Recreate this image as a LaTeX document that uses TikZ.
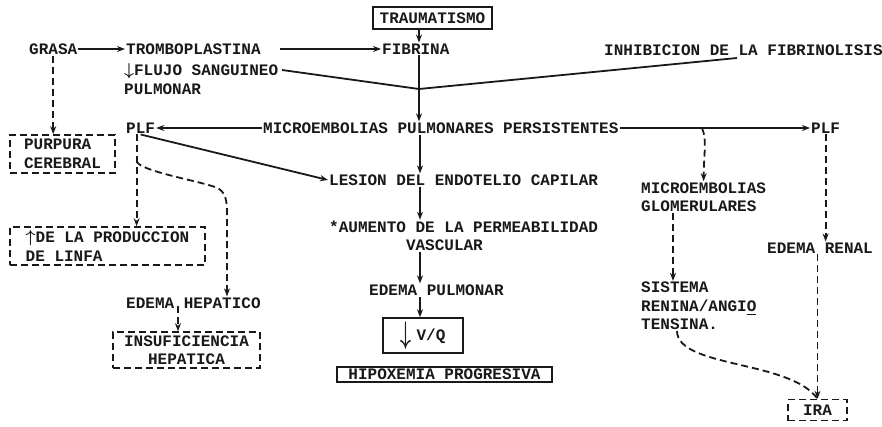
\documentclass[tikz,border=0pt]{standalone}
\usepackage{amsmath}
\usepackage{graphicx}
\usepackage{fontspec}
\setmonofont{Liberation Mono}
\usepackage{tikz}
\usetikzlibrary{positioning,arrows.meta,calc}
\definecolor{ink}{RGB}{25,25,25}
\newcommand{\typefont}{\ttfamily\bfseries\fontsize{16}{18.5}\selectfont}
\tikzset{
  lbl/.style={anchor=west, font=\typefont, text=ink, inner sep=1pt, align=left},
  flow/.style={ink, line width=1.8pt, -{Stealth[length=8pt,width=6pt]}},
  dflow/.style={flow, dash pattern=on 7pt off 4pt},
  dline/.style={ink, line width=1.8pt, dash pattern=on 7pt off 4pt},
  solidbox/.style={draw=ink, line width=1.6pt, font=\typefont, text=ink, inner sep=0pt},
  dashbox/.style={solidbox, dash pattern=on 7pt off 4pt}
}

\begin{document}
\begin{tikzpicture}[x=1pt, y=-1pt]
\useasboundingbox (0,0) rectangle (882,426);
\node[solidbox, minimum width=119pt, minimum height=22pt] (traum) at (432.5,18) {TRAUMATISMO};
\node[lbl] (grasa) at (28,49) {GRASA};
\node[lbl] (trombo) at (125,49) {TROMBOPLASTINA};
\node[lbl] (fibrina) at (381,49) {FIBRINA};
\node[lbl] (inhib) at (603,50) {INHIBICION DE LA FIBRINOLISIS};
\node[lbl] (flujo) at (123,79) {$\boldsymbol{\downarrow}$FLUJO SANGUINEO\\PULMONAR};
\node[lbl] (plfl) at (125,128) {PLF};
\node[lbl] (micro) at (262,128) {MICROEMBOLIAS PULMONARES PERSISTENTES};
\node[lbl] (plfr) at (810,128) {PLF};
\node[dashbox, minimum width=105pt, minimum height=38pt, align=left] (purpura) at (62.5,154) {PURPURA\\CEREBRAL};
\node[lbl] (lesion) at (328,180) {LESION DEL ENDOTELIO CAPILAR};
\node[lbl] (aumento) at (328,236) {*AUMENTO DE LA PERMEABILIDAD\\\phantom{AUMENTO }VASCULAR};
\node[lbl] (edemap) at (368,290) {EDEMA PULMONAR};
\node[solidbox, minimum width=80pt, minimum height=35pt] (vq) at (423,335.5) {\raisebox{-3pt}{\scalebox{1.1}[1.8]{$\boldsymbol{\downarrow}$}}\hspace{5pt}V/Q};
\node[solidbox, line width=2pt, minimum width=215pt, minimum height=15pt] (hipox) at (444.5,374.5) {HIPOXEMIA PROGRESIVA};
\node[lbl] (glom) at (640,197) {MICROEMBOLIAS\\GLOMERULARES};
\node[lbl] (sistema) at (640,306) {SISTEMA\\RENINA/ANGI\underline{O}\\TENSINA.};
\node[lbl] (renal) at (766,248) {EDEMA RENAL};
\node[dashbox, minimum width=59pt, minimum height=21pt] (ira) at (817.5,410) {IRA};
\node[dashbox, minimum width=195pt, minimum height=38pt, align=left] (linfa) at (107.5,246) {$\boldsymbol{\uparrow}$DE LA PRODUCCION\\DE LINFA};
\node[lbl] (edemah) at (125,303) {EDEMA HEPATICO};
\node[dashbox, minimum width=147pt, minimum height=36pt, align=center] (insuf) at (186.5,350) {INSUFICIENCIA\\HEPATICA};
\coordinate (join) at (419,89);
\coordinate (flujoend) at (282,70);
\coordinate (inhibend) at (737,58);
\coordinate (split) at (702,128);
\coordinate (axis) at (420,0);
\coordinate (hepa) at ($(edemah.south west)+(53,-4)$);
\draw[flow] (grasa) -- (trombo);
\draw[flow, shorten <=18pt] (trombo) -- (fibrina);
\draw[flow] (traum.south -| join) -- (fibrina.north -| join);
\draw[ink, line width=1.8pt] (flujoend) -- (join) -- (inhibend);
\draw[flow] (fibrina.south -| join) -- (micro.north -| join);
\draw[flow] (micro) -- (plfl);
\draw[flow] (micro) -- (plfr);
\draw[dflow] (split) .. controls (707,140) and (704,150) .. (glom.north);
\draw[dflow] ($(glom.south west)+(33,0)$) -- ($(sistema.north west)+(33,0)$);
\draw[dflow] (plfr.south) -- (plfr.south |- renal.north);
\draw[dflow] (renal.south -| ira.north) -- (ira.north);
\draw[dline] ($(sistema.south west)+(37,0)$) .. controls (678,368) and (790,360) .. (ira.north);
\draw[dflow] (grasa.south) -- (grasa.south |- purpura.north);
\draw[flow] (plfl.south) -- (lesion.west);
\draw[dflow] ([xshift=-4pt]plfl.south) -- ([xshift=-4pt]plfl.south |- linfa.north);
\draw[dflow] ($(plfl.south)+(-4,26)$) .. controls +(0,10) and (195,180) .. (215,187) .. controls (226,191) and (227,200) .. (227,215) -- ($(edemah.north west)+(102,0)$);
\draw[dflow] (hepa) -- (hepa |- insuf.north);
\draw[flow] (micro.south -| axis) -- (lesion.north -| axis);
\draw[flow] (lesion.south -| axis) -- (aumento.north -| axis);
\draw[flow] (aumento.south -| axis) -- (edemap.north -| axis);
\draw[flow] (edemap.south -| axis) -- (vq.north -| axis);
\end{tikzpicture}
\end{document}
